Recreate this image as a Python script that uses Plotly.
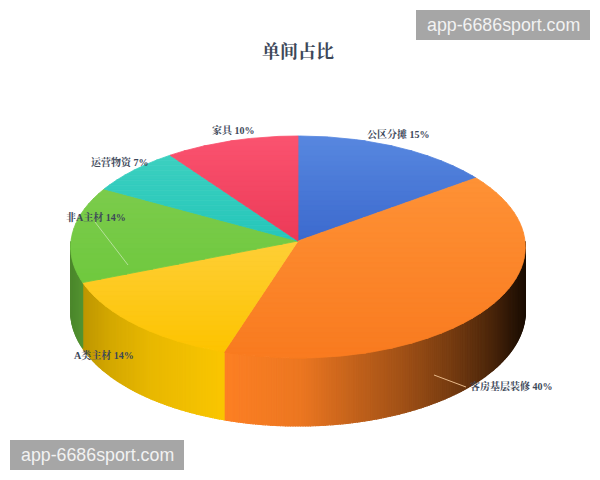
import numpy as np
import plotly.graph_objects as go

categories = ["公区分摊", "客房基层装修", "A类主材", "非A主材", "运营物资", "家具"]
shares = [15, 40, 14, 14, 7, 10]

# top face colours: far end of the slice, near end of the slice
top_far = [(88, 136, 224), (255, 146, 54), (255, 207, 56), (124, 204, 76), (60, 208, 192), (251, 84, 112)]
top_near = [(60, 106, 206), (249, 123, 32), (253, 196, 0), (112, 201, 63), (38, 199, 187), (236, 58, 88)]
side_colors = [(74, 121, 220), (254, 128, 36), (250, 198, 0), (110, 195, 65), (44, 201, 187), (245, 72, 95)]
label_pos = [(398, 134), (511, 386), (104, 355), (96, 217), (120, 162), (233, 130)]

CX, CY = 298, 241
RX, RY = 227, 110.7
PERSP = 0.054
DEPTH = 64.3
FONT = "Liberation Serif, Noto Serif CJK SC, Noto Sans CJK SC"
INK = "#3d4859"


def project(t, r=1.0, depth=0.0):
    # t is degrees clockwise from the back of the pie
    a = np.radians(t)
    v = -np.cos(a) * r
    w = 1 - PERSP * v
    return CX + RX * r * np.sin(a) / w, CY + (RY * v + depth) / w


def light(x):
    return np.interp(x, [71, 85, 110, 150, 222, 300, 350, 400, 450, 490, 510, 526],
                     [.70, .77, .85, .93, 1, .93, .78, .64, .47, .30, .18, .1])


def mix(a, b, k):
    return "rgb(%d,%d,%d)" % tuple(int(p + (q - p) * k) for p, q in zip(a, b))


def clip_band(pts, y0, y1):
    # cut a polygon down to the part between two horizontal lines
    for limit, keep_above in [(y0, False), (y1, True)]:
        out = []
        for (ax, ay), (bx, by) in zip(pts, pts[1:] + pts[:1]):
            a_in = ay <= limit if keep_above else ay >= limit
            b_in = by <= limit if keep_above else by >= limit
            if a_in:
                out.append((ax, ay))
            if a_in != b_in:
                s = (limit - ay) / (by - ay)
                out.append((ax + (bx - ax) * s, limit))
        pts = out
        if not pts:
            break
    return pts


def patch(fig, xs, ys, color, width):
    fig.add_trace(go.Scatter(x=list(xs) + [xs[0]], y=list(ys) + [ys[0]], mode="lines", fill="toself",
                             fillcolor=color, line=dict(color=color, width=width),
                             hoverinfo="skip", showlegend=False))


fig = go.Figure()
cum = np.cumsum([0] + shares) * 3.6

# side wall, drawn as thin strips so the shade can run across it
for i, name in enumerate(categories):
    start, end = max(cum[i], 90), min(cum[i + 1], 270)
    if start >= end:
        continue
    edges = np.append(np.arange(start, end, 0.6), end)
    for t0, t1 in zip(edges[:-1], edges[1:]):
        x0, y0 = project(t0)
        x1, y1 = project(t1)
        x2, y2 = project(t1, depth=DEPTH)
        x3, y3 = project(t0, depth=DEPTH)
        k = light((x0 + x1) / 2)
        c = "rgb(%d,%d,%d)" % tuple(int(ch * k) for ch in side_colors[i])
        patch(fig, [x0, x1, x2, x3], [y0, y1, y2, y3], c, 1.2)

# top face, each slice cut in horizontal bands for the soft shade
for i, name in enumerate(categories):
    xs, ys = project(np.linspace(cum[i], cum[i + 1], 120))
    poly = [(CX, CY)] + list(zip(xs, ys))
    ymin, ymax = min(p[1] for p in poly), max(p[1] for p in poly)
    bands = np.arange(ymin, ymax + 5, 5.0)
    for y0, y1 in zip(bands[:-1], bands[1:]):
        part = clip_band(poly, y0, y1)
        if len(part) < 3:
            continue
        c = mix(top_far[i], top_near[i], ((y0 + y1) / 2 - ymin) / (ymax - ymin))
        patch(fig, [p[0] for p in part], [p[1] for p in part], c, 0.8)

# leader lines
fig.add_shape(type="line", x0=434, y0=375, x1=466, y1=387, line=dict(color="#e8b98a", width=1))
fig.add_shape(type="line", x0=95, y0=222, x1=128, y1=265, line=dict(color="#b5e09a", width=1))

annotations = [dict(x=298, y=52, text="<b>单间占比</b>", showarrow=False,
                    font=dict(family=FONT, size=18, color=INK))]
for name, share, (lx, ly) in zip(categories, shares, label_pos):
    annotations.append(dict(x=lx, y=ly, text="<b>%s %d%%</b>" % (name, share), showarrow=False,
                            font=dict(family=FONT, size=10, color=INK)))

# the two grey stamps on the picture
for x0, y0 in [(416, 10), (10, 440)]:
    fig.add_shape(type="rect", x0=x0, y0=y0, x1=x0 + 174, y1=y0 + 30, fillcolor="#a6a6a6", line_width=0)
    annotations.append(dict(x=x0 + 87, y=y0 + 15, text="app-6686sport.com", showarrow=False,
                            font=dict(family="Liberation Sans", size=17.8, color="#f2f2f2")))

fig.update_layout(width=600, height=480, autosize=False, margin=dict(l=0, r=0, t=0, b=0),
                  paper_bgcolor="white", plot_bgcolor="white", annotations=annotations,
                  xaxis=dict(range=[0, 600], visible=False),
                  yaxis=dict(range=[480, 0], visible=False))
fig.write_html("out.html", config=dict(displayModeBar=False),
               post_script="document.body.style.margin='0';")
